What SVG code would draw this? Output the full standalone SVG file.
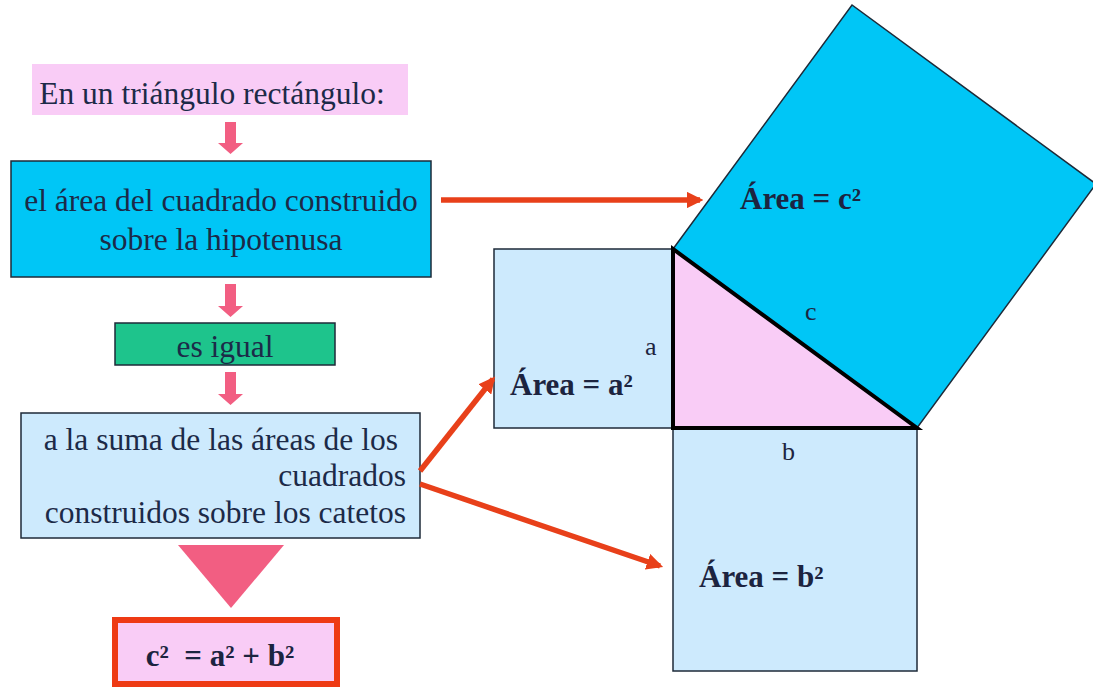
<svg xmlns="http://www.w3.org/2000/svg" width="1093" height="688" viewBox="0 0 1093 688">
<defs>
<style>
text{font-family:'Liberation Serif','Times New Roman',serif}
.t{font-size:31.5px;fill:#1c2a48}
.b{font-size:31px;font-weight:bold;fill:#1c2440}
.l{font-size:26px;fill:#1c2440}
.box{stroke:#1e2a38;stroke-width:1.5}
.conn{stroke:#e8401a;stroke-width:5.5;fill:none;marker-end:url(#ah)}
.pk{fill:#f25e82}
</style>
<marker id="ah" viewBox="0 0 10 10" refX="8" refY="5" markerWidth="3" markerHeight="3" orient="auto" markerUnits="strokeWidth">
<path d="M0,0 L10,5 L0,10 z" fill="#e8401a"/>
</marker>
</defs>
<rect width="1093" height="688" fill="#ffffff"/>

<g id="n-triangulo">
<rect x="32" y="64" width="376" height="51" fill="#f9ccf6"/>
<text class="t" x="212" y="104" text-anchor="middle">En un triángulo rectángulo:</text>
</g>

<g id="n-hipotenusa">
<rect class="box" x="11" y="161" width="420" height="116" fill="#00c6f6"/>
<text class="t" x="221" y="211" text-anchor="middle">el área del cuadrado construido</text>
<text class="t" x="221" y="250" text-anchor="middle">sobre la hipotenusa</text>
</g>

<g id="n-igual">
<rect class="box" x="115" y="323" width="220" height="42" fill="#1ec48c"/>
<text class="t" x="225" y="357" text-anchor="middle">es igual</text>
</g>

<g id="n-suma">
<rect class="box" x="21" y="413" width="399" height="125" fill="#cdeafd"/>
<text class="t" x="398" y="450" text-anchor="end">a la suma de las áreas de los</text>
<text class="t" x="406" y="486" text-anchor="end">cuadrados</text>
<text class="t" x="406" y="523" text-anchor="end">construidos sobre los catetos</text>
</g>

<g id="n-formula">
<rect x="115" y="620" width="222" height="64" fill="#f9ccf6" stroke="#ee3a14" stroke-width="6"/>
<text class="b" x="220" y="666" text-anchor="middle" font-size="38" xml:space="preserve">c²  = a² + b²</text>
</g>

<g id="n-cuadrado-c">
<polygon points="673,249 852,5 1096,184 917,428" fill="#00c6f6" stroke="#1e2a38" stroke-width="1.5"/>
<text class="b" x="740" y="209" xml:space="preserve">Área = c²</text>
<text class="l" x="805" y="320">c</text>
</g>

<g id="n-cuadrado-a">
<rect x="494" y="249" width="179" height="179" fill="#cdeafd" stroke="#1e2a38" stroke-width="1.5"/>
<text class="b" x="510" y="395">Área = a²</text>
<text class="l" x="645" y="355">a</text>
</g>

<g id="n-cuadrado-b">
<rect x="673" y="428" width="244" height="243" fill="#cdeafd" stroke="#1e2a38" stroke-width="1.5"/>
<text class="l" x="782" y="460">b</text>
<text class="b" x="699" y="587">Área = b²</text>
</g>

<g id="n-triangulo-rect">
<polygon points="673,249 673,428 917,428" fill="#f9ccf6" stroke="#000000" stroke-width="4" stroke-linejoin="miter"/>
</g>

<g id="connectors">
<path class="pk" d="M225,122 H236 V143 H243 L230.5,154 L218,143 H225 Z"/>
<path class="pk" d="M225,284 H236 V306 H243 L230.5,317 L218,306 H225 Z"/>
<path class="pk" d="M225,372 H236 V394 H243 L230.5,405 L218,394 H225 Z"/>
<polygon class="pk" points="178,545 284,545 231,608"/>
<line class="conn" x1="441" y1="200" x2="700" y2="200"/>
<line class="conn" x1="420" y1="471" x2="493" y2="379"/>
<line class="conn" x1="420" y1="484" x2="660" y2="566"/>
</g>
</svg>
